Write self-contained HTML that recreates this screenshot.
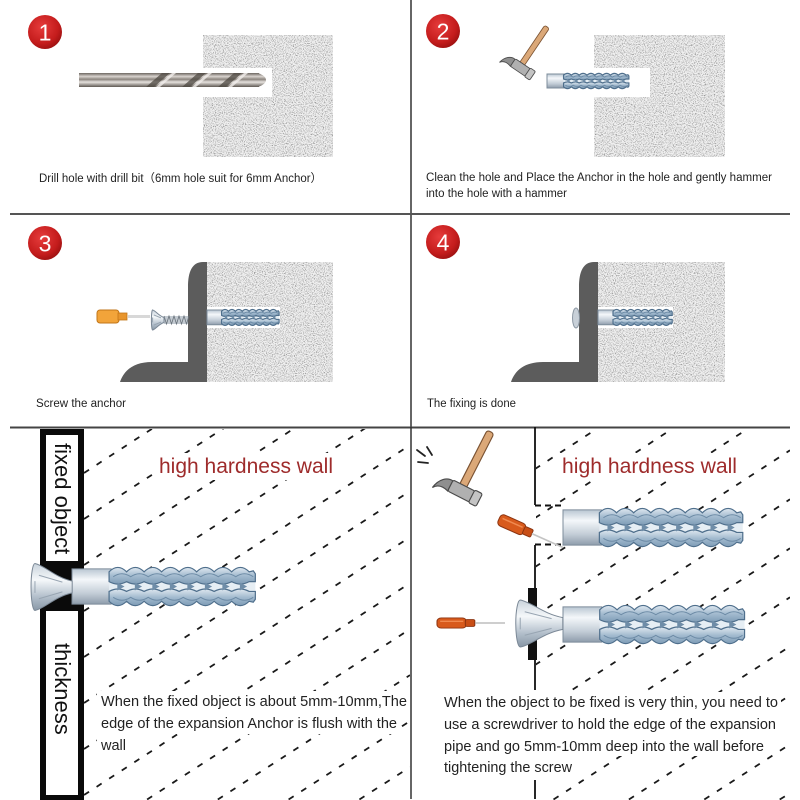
<!DOCTYPE html>
<html><head><meta charset="utf-8"><style>
html,body{margin:0;padding:0;background:#fff;width:800px;height:800px;overflow:hidden;}
svg{display:block;}
text{font-family:"Liberation Sans","Noto Sans CJK SC",sans-serif;}
</style></head><body>
<svg width="800" height="800" viewBox="0 0 800 800" xmlns="http://www.w3.org/2000/svg" xmlns:xlink="http://www.w3.org/1999/xlink">
<defs>
 <filter id="nz" x="0" y="0" width="1" height="1" filterUnits="objectBoundingBox" color-interpolation-filters="sRGB">
  <feTurbulence type="fractalNoise" baseFrequency="0.9" numOctaves="2" seed="7" result="t"/>
  <feColorMatrix in="t" type="matrix" values="0 0 0 0 0.45  0 0 0 0 0.45  0 0 0 0 0.45  2.4 0 0 0 -1.12"/>
 </filter>
 <radialGradient id="rg" cx="0.4" cy="0.35" r="0.7">
  <stop offset="0" stop-color="#e63c3c"/><stop offset="0.7" stop-color="#c41c1c"/><stop offset="1" stop-color="#9a1010"/>
 </radialGradient>
 <linearGradient id="ag" x1="0" y1="0" x2="0" y2="1">
  <stop offset="0" stop-color="#dfe8f0"/><stop offset="0.5" stop-color="#a3bbcf"/><stop offset="1" stop-color="#7f9cb6"/>
 </linearGradient>
 <linearGradient id="cg" x1="0" y1="0" x2="0" y2="1">
  <stop offset="0" stop-color="#b9c6d2"/><stop offset="0.3" stop-color="#f4f7fa"/><stop offset="0.7" stop-color="#c2ccd6"/><stop offset="1" stop-color="#8e9cab"/>
 </linearGradient>
 <linearGradient id="sg" x1="0" y1="0" x2="0" y2="1">
  <stop offset="0" stop-color="#c9d3dc"/><stop offset="0.35" stop-color="#f5f8fa"/><stop offset="0.7" stop-color="#b4c0cc"/><stop offset="1" stop-color="#8897a6"/>
 </linearGradient>
 <linearGradient id="dg" x1="0" y1="0" x2="0" y2="1">
  <stop offset="0" stop-color="#6d6660"/><stop offset="0.25" stop-color="#d9d4cf"/><stop offset="0.45" stop-color="#8c857f"/><stop offset="0.65" stop-color="#e6e2de"/><stop offset="1" stop-color="#5f5953"/>
 </linearGradient>
 <clipPath id="clipL"><rect x="84" y="429" width="326" height="371"/></clipPath>
 <clipPath id="clipR"><rect x="536" y="429" width="254" height="371"/></clipPath>

 <g id="anc">
  <rect x="0" y="5" width="38" height="36" fill="url(#cg)" stroke="#7d8c9b" stroke-width="1" vector-effect="non-scaling-stroke"/>
  <rect x="36" y="17" width="142" height="12" fill="#e6eef4"/>
  <path d="M36,8 q8.5,-9 17,0 q8.5,-9 17,0 q8.5,-9 17,0 q8.5,-9 17,0 q8.5,-9 17,0 q8.5,-9 17,0 q8.5,-9 17,0 q8.5,-9 17,0 L176,7 L178,10 L178,18 L172,18 q-8.5,5 -17,0 q-8.5,5 -17,0 q-8.5,5 -17,0 q-8.5,5 -17,0 q-8.5,5 -17,0 q-8.5,5 -17,0 q-8.5,5 -17,0 q-8.5,5 -17,0 Z" fill="url(#ag)" stroke="#4f6f8c" stroke-width="1.2" vector-effect="non-scaling-stroke"/>
  <path d="M36,38 q8.5,9 17,0 q8.5,9 17,0 q8.5,9 17,0 q8.5,9 17,0 q8.5,9 17,0 q8.5,9 17,0 q8.5,9 17,0 q8.5,9 17,0 L176,39 L178,36 L178,28 L172,28 q-8.5,-5 -17,0 q-8.5,-5 -17,0 q-8.5,-5 -17,0 q-8.5,-5 -17,0 q-8.5,-5 -17,0 q-8.5,-5 -17,0 q-8.5,-5 -17,0 q-8.5,-5 -17,0 Z" fill="url(#ag)" stroke="#4f6f8c" stroke-width="1.2" vector-effect="non-scaling-stroke"/>
  <path d="M40,13 q8.5,-6 17,0 q8.5,-6 17,0 q8.5,-6 17,0 q8.5,-6 17,0 q8.5,-6 17,0 q8.5,-6 17,0 q8.5,-6 17,0 q8.5,-6 17,0 M40,34 q8.5,6 17,0 q8.5,6 17,0 q8.5,6 17,0 q8.5,6 17,0 q8.5,6 17,0 q8.5,6 17,0 q8.5,6 17,0 q8.5,6 17,0" fill="none" stroke="#6d8ba6" stroke-width="1" vector-effect="non-scaling-stroke"/>
  <path d="M44,19 l7,4 l-7,4 z M61,19 l7,4 l-7,4 z M78,19 l7,4 l-7,4 z M95,19 l7,4 l-7,4 z M112,19 l7,4 l-7,4 z M129,19 l7,4 l-7,4 z M146,19 l7,4 l-7,4 z M163,19 l7,4 l-7,4 z" fill="#6f8da8"/>
 </g>

 <g id="scr">
  <path d="M2,-24 C12,-22 22,-10 40,-6 L40,6 C22,10 12,22 2,24 A4,24 0 0 1 2,-24 Z" fill="url(#sg)" stroke="#7b8896" stroke-width="1" vector-effect="non-scaling-stroke"/>
  <path d="M6,-12 L30,-5 M6,12 L30,5 M2,-6 L2,6" stroke="#98a5b2" stroke-width="1" fill="none" vector-effect="non-scaling-stroke"/>
 </g>

 <g id="ham">
  <rect x="-4" y="-64" width="8" height="70" rx="3" fill="#dba878" stroke="#7a5232" stroke-width="1.2"/>
  <path d="M-12,0 C-19,-1 -26,5 -28,16 C-24,10 -18,10 -12,12 Z" fill="#8f8f8f" stroke="#4a4a4a" stroke-width="1.2"/>
  <rect x="-12" y="-1" width="26" height="13" rx="2" fill="#b0b0b0" stroke="#4a4a4a" stroke-width="1.2"/>
  <rect x="13" y="-2" width="9" height="15" rx="2" fill="#c4c4c4" stroke="#4a4a4a" stroke-width="1.2"/>
 </g>

 <g id="sd">
  <rect x="0" y="-6" width="28" height="12" rx="4" fill="#d85a1c" stroke="#8c3410" stroke-width="1"/>
  <rect x="27" y="-4" width="9" height="8" rx="1.5" fill="#c84e16" stroke="#8c3410" stroke-width="1"/>
  <line x1="3" y1="-2" x2="25" y2="-2" stroke="#f08a50" stroke-width="1.5"/>
 </g>
</defs>

<rect width="800" height="800" fill="#fff"/>

<!-- grid lines -->
<line x1="411" y1="0" x2="411" y2="427" stroke="#333" stroke-width="1.5"/>
<line x1="10" y1="214" x2="790" y2="214" stroke="#555" stroke-width="2"/>
<line x1="10" y1="427.5" x2="790" y2="427.5" stroke="#444" stroke-width="2"/>
<line x1="411" y1="427" x2="411" y2="799" stroke="#333" stroke-width="1.5"/>

<!-- ===== STEP 1 ===== -->
<circle cx="45" cy="32" r="17" fill="url(#rg)"/>
<text x="45" y="40.5" font-size="23" fill="#fff" text-anchor="middle">1</text>
<rect x="203" y="35" width="130" height="122" fill="#f0f0f0"/>
<rect x="203" y="35" width="130" height="122" filter="url(#nz)"/>
<rect x="203" y="68" width="69" height="29" fill="#fff"/>
<rect x="79" y="73" width="180" height="14" fill="url(#dg)"/>
<path d="M258,73 Q266,76 266,80 Q266,84 258,87 Z" fill="url(#dg)"/>
<path d="M146,87 L154,87 L170,73 L162,73 Z M182,87 L190,87 L206,73 L198,73 Z M218,87 L226,87 L242,73 L234,73 Z" fill="#4e4842" opacity="0.75"/>
<path d="M156,87 L160,87 L176,73 L172,73 Z M192,87 L196,87 L212,73 L208,73 Z M228,87 L232,87 L248,73 L244,73 Z" fill="#f2efec" opacity="0.8"/>
<text x="39" y="182" font-size="11.5" fill="#222" textLength="283" lengthAdjust="spacingAndGlyphs">Drill hole with drill bit（6mm hole suit for 6mm Anchor）</text>

<!-- ===== STEP 2 ===== -->
<circle cx="443" cy="31" r="17" fill="url(#rg)"/>
<text x="443" y="39.5" font-size="23" fill="#fff" text-anchor="middle">2</text>
<rect x="594" y="35" width="131" height="122" fill="#f0f0f0"/>
<rect x="594" y="35" width="131" height="122" filter="url(#nz)"/>
<rect x="594" y="68" width="56" height="29" fill="#fff"/>
<use xlink:href="#anc" href="#anc" transform="translate(547,72) scale(0.46,0.39)"/>
<use xlink:href="#ham" href="#ham" transform="translate(522,64) rotate(34) scale(0.7)"/>
<text x="426" y="181" font-size="11.5" fill="#222" textLength="346" lengthAdjust="spacingAndGlyphs">Clean the hole and Place the Anchor in the hole and gently hammer</text>
<text x="426" y="197" font-size="11.5" fill="#222" textLength="141" lengthAdjust="spacingAndGlyphs">into the hole with a hammer</text>

<!-- ===== STEP 3 ===== -->
<circle cx="45" cy="243" r="17" fill="url(#rg)"/>
<text x="45" y="251.5" font-size="23" fill="#fff" text-anchor="middle">3</text>
<rect x="207" y="262" width="126" height="120" fill="#f0f0f0"/>
<rect x="207" y="262" width="126" height="120" filter="url(#nz)"/>
<rect x="207" y="307" width="73" height="21" fill="#fff"/>
<path d="M207,262 L207,382 L120,382 C124,370 134,362 152,362 L188,362 L188,287 C188,272 192,262 203,262 Z" fill="#5c5c5c"/>
<use xlink:href="#anc" href="#anc" transform="translate(207,308) scale(0.405,0.41)"/>
<rect x="97" y="310" width="22" height="13" rx="3" fill="#f2a43a" stroke="#c27618" stroke-width="1"/>
<rect x="118" y="313" width="9" height="7" fill="#e8952c" stroke="#c27618" stroke-width="0.8"/>
<line x1="128" y1="316.5" x2="150" y2="316.5" stroke="#d8d8d8" stroke-width="3"/>
<rect x="164" y="316" width="24" height="8" fill="#c3cad1"/>
<path d="M164,316 l2.5,8 l2.5,-8 l2.5,8 l2.5,-8 l2.5,8 l2.5,-8 l2.5,8 l2.5,-8 l2.5,8 l2.5,-8" fill="none" stroke="#6a737c" stroke-width="0.8"/>
<use xlink:href="#scr" href="#scr" transform="translate(152,320) scale(0.3,0.42)"/>
<text x="36" y="407" font-size="11.5" fill="#222" textLength="90" lengthAdjust="spacingAndGlyphs">Screw the anchor</text>

<!-- ===== STEP 4 ===== -->
<circle cx="443" cy="242" r="17" fill="url(#rg)"/>
<text x="443" y="250.5" font-size="23" fill="#fff" text-anchor="middle">4</text>
<rect x="598" y="262" width="127" height="120" fill="#f0f0f0"/>
<rect x="598" y="262" width="127" height="120" filter="url(#nz)"/>
<rect x="598" y="307" width="75" height="21" fill="#fff"/>
<path d="M598,262 L598,382 L511,382 C515,370 525,362 543,362 L579,362 L579,287 C579,272 583,262 594,262 Z" fill="#5c5c5c"/>
<use xlink:href="#anc" href="#anc" transform="translate(598,308) scale(0.417,0.41)"/>
<ellipse cx="576" cy="318" rx="3.5" ry="10" fill="#c8d0d8" stroke="#8a96a2" stroke-width="1"/>
<text x="427" y="407" font-size="11.5" fill="#222" textLength="89" lengthAdjust="spacingAndGlyphs">The fixing is done</text>

<!-- ===== BOTTOM LEFT ===== -->
<g clip-path="url(#clipL)" stroke="#1a1a1a" stroke-width="1.8" stroke-dasharray="6 9" fill="none">
 <line x1="84" y1="473" x2="410" y2="261.1"/>
 <line x1="84" y1="519" x2="410" y2="307.1"/>
 <line x1="84" y1="565" x2="410" y2="353.1"/>
 <line x1="84" y1="611" x2="410" y2="399.1"/>
 <line x1="84" y1="657" x2="410" y2="445.1"/>
 <line x1="84" y1="703" x2="410" y2="491.1"/>
 <line x1="84" y1="749" x2="410" y2="537.1"/>
 <line x1="84" y1="795" x2="410" y2="583.1"/>
 <line x1="147.1" y1="799.5" x2="410" y2="629.1"/>
 <line x1="217.8" y1="799.5" x2="410" y2="675.1"/>
 <line x1="288.6" y1="799.5" x2="410" y2="721.1"/>
 <line x1="359.4" y1="799.5" x2="410" y2="767.1"/>
</g>
<rect x="154" y="453" width="186" height="27" fill="#fff"/>
<rect x="97" y="691" width="313" height="21" fill="#fff"/>
<rect x="97" y="712" width="304" height="22" fill="#fff"/>
<rect x="97" y="734" width="33" height="21" fill="#fff"/>

<rect x="40" y="429" width="44" height="371" fill="#0a0a0a"/>
<rect x="46" y="435" width="32" height="360" fill="#fff"/>
<rect x="40" y="561" width="44" height="50" fill="#0a0a0a"/>
<text transform="translate(55,443) rotate(90)" font-size="22" fill="#111">fixed object</text>
<text transform="translate(55,643) rotate(90)" font-size="22" fill="#111">thickness</text>

<use xlink:href="#anc" href="#anc" transform="translate(72,564) scale(1.03,0.98)"/>
<use xlink:href="#scr" href="#scr" transform="translate(33,587) scale(0.98,0.98)"/>

<text x="159" y="473" font-size="21" fill="#9e2b2b" textLength="174" lengthAdjust="spacingAndGlyphs">high hardness wall</text>
<text x="101" y="706" font-size="14.5" fill="#222" textLength="306" lengthAdjust="spacingAndGlyphs">When the fixed object is about 5mm-10mm,The</text>
<text x="101" y="728" font-size="14.5" fill="#222" textLength="296" lengthAdjust="spacingAndGlyphs">edge of the expansion Anchor is flush with the</text>
<text x="101" y="750" font-size="14.5" fill="#222">wall</text>

<!-- ===== BOTTOM RIGHT ===== -->
<g clip-path="url(#clipR)" stroke="#1a1a1a" stroke-width="1.8" stroke-dasharray="6 9" fill="none">
 <line x1="535" y1="420" x2="790" y2="254.3"/>
 <line x1="535" y1="469" x2="790" y2="303.3"/>
 <line x1="535" y1="518" x2="790" y2="352.3"/>
 <line x1="535" y1="567" x2="790" y2="401.3"/>
 <line x1="535" y1="616" x2="790" y2="450.3"/>
 <line x1="535" y1="665" x2="790" y2="499.3"/>
 <line x1="535" y1="714" x2="790" y2="548.3"/>
 <line x1="535" y1="763" x2="790" y2="597.3"/>
 <line x1="553.5" y1="799.5" x2="790" y2="646.3"/>
 <line x1="628.9" y1="799.5" x2="790" y2="695.3"/>
 <line x1="704.3" y1="799.5" x2="790" y2="744.3"/>
 <line x1="779.7" y1="799.5" x2="790" y2="793.3"/>
</g>
<rect x="557" y="453" width="186" height="27" fill="#fff"/>
<rect x="440" y="692" width="341" height="20" fill="#fff"/>
<rect x="440" y="712" width="339" height="22" fill="#fff"/>
<rect x="440" y="734" width="328" height="22" fill="#fff"/>
<rect x="440" y="756" width="136" height="21" fill="#fff"/>

<line x1="535" y1="427" x2="535" y2="505" stroke="#111" stroke-width="1.8"/>
<line x1="535" y1="545" x2="535" y2="690" stroke="#111" stroke-width="1.8"/>
<line x1="535" y1="780" x2="535" y2="799" stroke="#111" stroke-width="1.8"/>
<line x1="535" y1="505.5" x2="565" y2="505.5" stroke="#111" stroke-width="2" stroke-dasharray="6 4"/>
<line x1="535" y1="544.5" x2="565" y2="544.5" stroke="#111" stroke-width="2" stroke-dasharray="6 4"/>
<rect x="528" y="588" width="9" height="72" fill="#111"/>

<use xlink:href="#ham" href="#ham" transform="translate(463,486) rotate(27) scale(0.95)"/>
<g stroke="#222" stroke-width="1.8" stroke-linecap="round">
 <line x1="417" y1="450" x2="425" y2="456"/>
 <line x1="427" y1="447" x2="432" y2="455"/>
 <line x1="418" y1="462" x2="428" y2="463"/>
</g>

<use xlink:href="#anc" href="#anc" transform="translate(563,505) scale(1.01,0.98)"/>
<g transform="translate(499,519) rotate(24)">
 <use xlink:href="#sd" href="#sd"/>
 <line x1="36" y1="0" x2="70" y2="0" stroke="#c4c4c4" stroke-width="1.6"/>
</g>

<use xlink:href="#anc" href="#anc" transform="translate(563,602) scale(1.02,0.98)"/>
<use xlink:href="#scr" href="#scr" transform="translate(518,623.5) scale(1.12,0.98)"/>
<use xlink:href="#sd" href="#sd" transform="translate(437,623) scale(1.05,0.85)"/>
<line x1="475" y1="623" x2="505" y2="623" stroke="#b0b0b0" stroke-width="1.3"/>

<text x="562" y="473" font-size="21" fill="#9e2b2b" textLength="175" lengthAdjust="spacingAndGlyphs">high hardness wall</text>
<text x="444" y="707" font-size="14.5" fill="#222" textLength="334" lengthAdjust="spacingAndGlyphs">When the object to be fixed is very thin, you need to</text>
<text x="444" y="729" font-size="14.5" fill="#222" textLength="332" lengthAdjust="spacingAndGlyphs">use a screwdriver to hold the edge of the expansion</text>
<text x="444" y="751" font-size="14.5" fill="#222" textLength="320" lengthAdjust="spacingAndGlyphs">pipe and go 5mm-10mm deep into the wall before</text>
<text x="444" y="772" font-size="14.5" fill="#222" textLength="128" lengthAdjust="spacingAndGlyphs">tightening the screw</text>
</svg>
</body></html>
